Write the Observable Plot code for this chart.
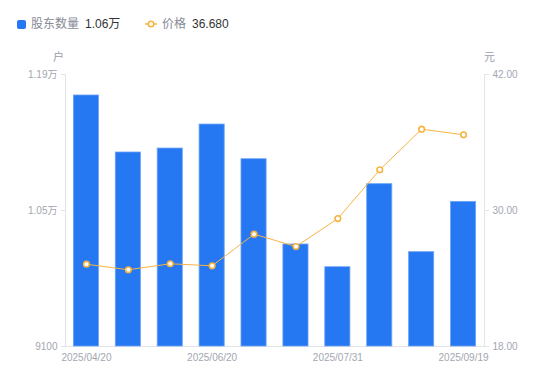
<!DOCTYPE html>
<html>
<head>
<meta charset="utf-8">
<script src="https://cdn.jsdelivr.net/npm/d3@7"></script>
<script src="https://cdn.jsdelivr.net/npm/@observablehq/plot@0.6"></script>
<style>
  html, body { margin: 0; padding: 0; background: #fff; }
  body { width: 550px; height: 381px; overflow: hidden; font-family: "Liberation Sans", "Noto Sans CJK SC", sans-serif; }
  #legend { height: 45px; position: relative; font-size: 12px; }
  #legend .item { position: absolute; top: 17px; display: flex; align-items: center; white-space: nowrap; line-height: 14px; }
  #legend .name { color: #868a96; margin-right: 6px; }
  #legend .val { color: #333; }
  #chart svg { display: block; }
</style>
</head>
<body>
<div id="legend"></div>
<div id="chart"></div>
<script>
const dates = ["2025/04/20","2025/04/30","2025/05/20","2025/06/20","2025/06/30","2025/07/10","2025/07/31","2025/08/20","2025/09/10","2025/09/19"];
const holders = [11684, 11097, 11138, 11385, 11028, 10150, 9916, 10771, 10071, 10589];
const prices = [25.26, 24.77, 25.30, 25.12, 27.91, 26.82, 29.29, 33.59, 37.18, 36.68];
const countTicks = [9100, 10500, 11900];
const priceTicks = [18, 30, 42];
const shownDates = ["2025/04/20","2025/06/20","2025/07/31","2025/09/19"];
const seriesNames = ["股东数量", "价格"];
const units = ["户", "元"];

const BLUE = "#2677f2";
const ORANGE = "#f6b443";
const AXIS = "#e3e4e8";
const TICKTXT = "#a3a6b1";
const FONT = "'Liberation Sans', 'Noto Sans CJK SC', sans-serif";

const cMin = countTicks[0], cMax = countTicks[countTicks.length - 1];
const pMin = priceTicks[0], pMax = priceTicks[priceTicks.length - 1];
const toCount = p => cMin + (p - pMin) * (cMax - cMin) / (pMax - pMin);

const rows = dates.map((d, i) => ({date: d, holders: holders[i], price: prices[i], priceY: toCount(prices[i])}));

const fmtCount = d => d >= 10000 ? (d / 10000).toFixed(2) + "万" : String(d);

// legend
const last = rows[rows.length - 1];
document.getElementById("legend").innerHTML = `
  <div class="item" style="left:17px">
    <span style="display:inline-block;width:9px;height:9px;background:${BLUE};border-radius:2px;margin-right:5px"></span>
    <span class="name">${seriesNames[0]}</span><span class="val">${fmtCount(Math.round(last.holders/100)*100)}</span>
  </div>
  <div class="item" style="left:145px">
    <svg width="12" height="10" style="margin-right:5px"><line x1="0" y1="5" x2="12" y2="5" stroke="${ORANGE}" stroke-width="1.5"/><circle cx="6" cy="5" r="2.8" fill="#fff" stroke="${ORANGE}" stroke-width="1.6"/></svg>
    <span class="name">${seriesNames[1]}</span><span class="val">${last.price.toFixed(3)}</span>
  </div>`;

const chart = Plot.plot({
  width: 550,
  height: 336,
  marginLeft: 65,
  marginRight: 66,
  marginTop: 29,
  marginBottom: 35,
  style: {fontFamily: FONT, fontSize: "10px", background: "#fff"},
  x: {type: "band", domain: dates, paddingInner: 0.4, paddingOuter: 0.2, round: false, axis: null},
  y: {domain: [cMin, cMax], axis: null},
  marks: [
    Plot.frame({anchor: "left", stroke: AXIS}),
    Plot.frame({anchor: "right", stroke: AXIS}),
    Plot.frame({anchor: "bottom", stroke: AXIS}),
    Plot.axisY({anchor: "left", ticks: countTicks, tickFormat: fmtCount, tickSize: 4, tickPadding: 4, stroke: AXIS, fill: TICKTXT, label: null}),
    Plot.axisY({anchor: "right", ticks: priceTicks.map(toCount), tickFormat: (d, i) => priceTicks[i].toFixed(2), tickSize: 4, tickPadding: 4, stroke: AXIS, fill: TICKTXT, label: null}),
    Plot.axisX({ticks: shownDates, tickSize: 0, tickPadding: 7, fill: TICKTXT, label: null}),
    Plot.barY(rows, {x: "date", y1: cMin, y2: "holders", fill: BLUE, stroke: "#6ea4f6", strokeWidth: 0.8}),
    Plot.line(rows, {x: "date", y: "priceY", stroke: ORANGE, strokeWidth: 1}),
    Plot.dot(rows, {x: "date", y: "priceY", r: 2.8, fill: "#fff", stroke: ORANGE, strokeWidth: 1.6}),
    Plot.text([units[0]], {frameAnchor: "top-left", text: d => d, dx: -7, dy: -21, fill: "#9a9da8", fontSize: 11, textAnchor: "middle"}),
    Plot.text([units[1]], {frameAnchor: "top-right", text: d => d, dx: 5, dy: -21, fill: "#9a9da8", fontSize: 11, textAnchor: "middle"})
  ]
});
document.getElementById("chart").appendChild(chart);
</script>
</body>
</html>
